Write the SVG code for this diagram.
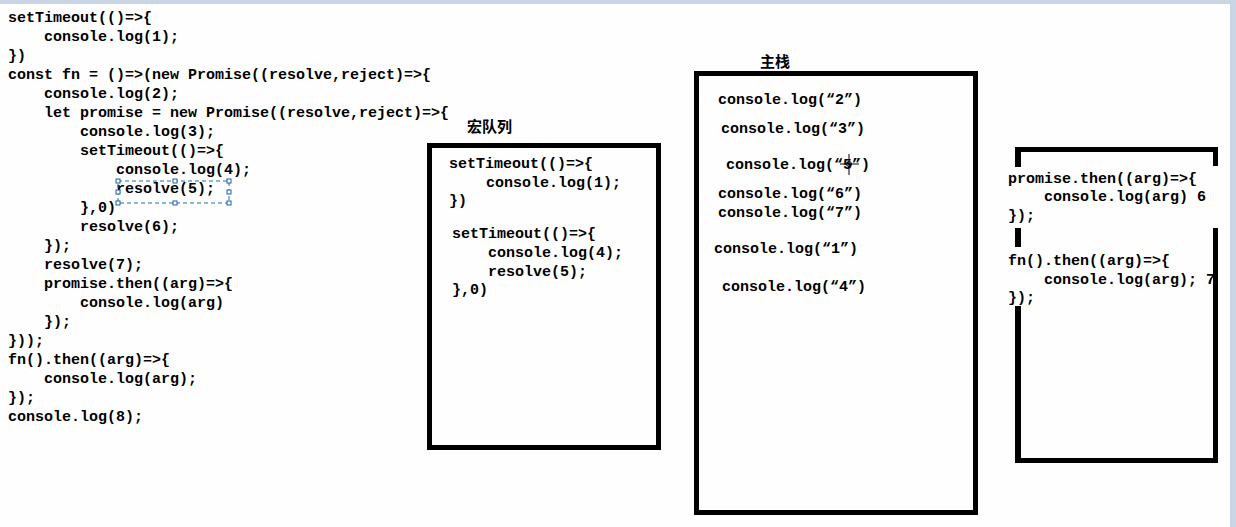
<svg xmlns="http://www.w3.org/2000/svg" width="1236" height="527" viewBox="0 0 1236 527">
<style>
.code{font-family:"Liberation Mono","DejaVu Sans Mono",monospace;font-size:15px;font-weight:bold;fill:#000}
.title{font-family:"Noto Sans CJK SC","Noto Sans",sans-serif;font-size:15px;font-weight:bold;fill:#000}
.box{fill:none;stroke:#000;stroke-width:5}
.bar{fill:#000}
.handle{fill:#fff;stroke:#1f5f9f;stroke-width:1}
</style>
<rect x="0" y="0" width="1236" height="527" fill="#fefefe"/>
<rect x="0" y="0" width="1236" height="4" fill="#c8d5e5"/>
<rect x="1230" y="0" width="6" height="527" fill="#cad6e5"/>

<g id="source-code" class="code">
<text x="8" y="22">setTimeout(()=&gt;{</text>
<text x="44" y="41">console.log(1);</text>
<text x="8" y="60">})</text>
<text x="8" y="79">const fn = ()=&gt;(new Promise((resolve,reject)=&gt;{</text>
<text x="44" y="98">console.log(2);</text>
<text x="44" y="117">let promise = new Promise((resolve,reject)=&gt;{</text>
<text x="80" y="136">console.log(3);</text>
<text x="80" y="155">setTimeout(()=&gt;{</text>
<text x="116" y="174">console.log(4);</text>
<text x="116" y="193">resolve(5);</text>
<text x="80" y="212">},0)</text>
<text x="80" y="231">resolve(6);</text>
<text x="44" y="250">});</text>
<text x="44" y="269">resolve(7);</text>
<text x="44" y="288">promise.then((arg)=&gt;{</text>
<text x="80" y="307">console.log(arg)</text>
<text x="44" y="326">});</text>
<text x="8" y="345">}));</text>
<text x="8" y="364">fn().then((arg)=&gt;{</text>
<text x="44" y="383">console.log(arg);</text>
<text x="8" y="402">});</text>
<text x="8" y="421">console.log(8);</text>
</g>

<g id="selection">
<rect x="118" y="181" width="111" height="22" fill="none" stroke="#1f6fb5" stroke-width="1" stroke-dasharray="4 3"/>
<rect class="handle" x="116" y="179" width="4" height="4"/>
<rect class="handle" x="173" y="179" width="4" height="4"/>
<rect class="handle" x="227" y="179" width="4" height="4"/>
<rect class="handle" x="116" y="190" width="4" height="4"/>
<rect class="handle" x="227" y="190" width="4" height="4"/>
<rect class="handle" x="116" y="201" width="4" height="4"/>
<rect class="handle" x="173" y="201" width="4" height="4"/>
<rect class="handle" x="227" y="201" width="4" height="4"/>
</g>

<g id="macro-queue">
<text class="title" x="467" y="132">宏队列</text>
<rect class="box" x="429.5" y="145.5" width="229" height="302"/>
<g class="code">
<text x="449" y="168">setTimeout(()=&gt;{</text>
<text x="486" y="187">console.log(1);</text>
<text x="449" y="205">})</text>
<text x="452" y="238">setTimeout(()=&gt;{</text>
<text x="488" y="257">console.log(4);</text>
<text x="488" y="276">resolve(5);</text>
<text x="452" y="294">},0)</text>
</g>
</g>

<g id="main-stack">
<text class="title" x="760" y="67">主栈</text>
<rect class="box" x="696.5" y="73.5" width="279" height="439"/>
<g class="code">
<text x="718" y="104">console.log(“2”)</text>
<text x="721" y="133">console.log(“3”)</text>
<text x="726" y="169">console.log(“5”)</text>
<text x="718" y="198">console.log(“6”)</text>
<text x="718" y="217">console.log(“7”)</text>
<text x="714" y="253">console.log(“1”)</text>
<text x="722" y="291">console.log(“4”)</text>
</g>
<g id="cursor" stroke="#000" stroke-width="1" fill="none">
<line x1="849" y1="154" x2="849" y2="175"/>
<line x1="840" y1="164" x2="859" y2="164"/>
<circle cx="849" cy="164" r="2.5"/>
</g>
</g>

<g id="micro-queue">
<rect class="bar" x="1015" y="147" width="203" height="5"/>
<rect class="bar" x="1015" y="147" width="6" height="20"/>
<rect class="bar" x="1015" y="228" width="6" height="19"/>
<rect class="bar" x="1015" y="306" width="6" height="157"/>
<rect class="bar" x="1213" y="147" width="5" height="19"/>
<rect class="bar" x="1213" y="228" width="5" height="235"/>
<rect class="bar" x="1015" y="458" width="203" height="5"/>
<g class="code">
<text x="1008" y="183">promise.then((arg)=&gt;{</text>
<text x="1044" y="201">console.log(arg) 6</text>
<text x="1008" y="220">});</text>
<text x="1008" y="265">fn().then((arg)=&gt;{</text>
<text x="1044" y="284">console.log(arg); 7</text>
<text x="1008" y="302">});</text>
</g>
</g>

<g id="connectors"/>
</svg>
